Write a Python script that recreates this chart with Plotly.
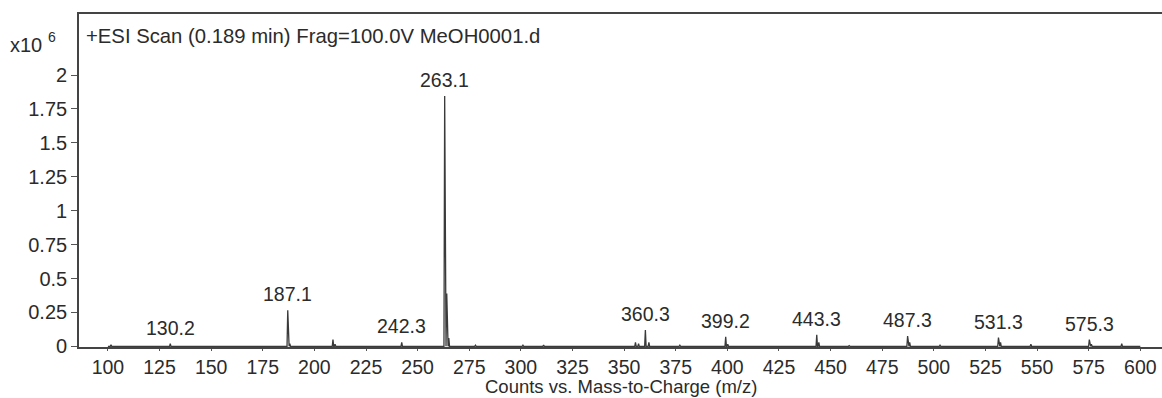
import plotly.graph_objects as go

# Peak list (m/z, intensity in units of 10^6 counts)
peak_mz = [101.5, 130.2, 187.1, 188.1, 209.0, 210.0, 242.3, 263.1, 264.1, 265.1,
           278.0, 301.0, 311.0, 355.5, 357.0, 360.3, 362.0, 377.0, 399.2, 400.2,
           443.3, 444.3, 459.0, 487.3, 488.3, 503.0, 531.3, 532.3, 547.0, 575.3,
           576.3, 591.0]
peak_int = [0.012, 0.02, 0.265, 0.02, 0.05, 0.015, 0.03, 1.845, 0.39, 0.06,
            0.008, 0.008, 0.01, 0.03, 0.02, 0.12, 0.03, 0.008, 0.07, 0.015,
            0.085, 0.03, 0.005, 0.075, 0.03, 0.008, 0.065, 0.03, 0.015, 0.05,
            0.015, 0.02]
scan_start, scan_end = 100.0, 600.0

label_mz = [130.2, 187.1, 242.3, 263.1, 360.3, 399.2, 443.3, 487.3, 531.3, 575.3]
label_int = [0.02, 0.265, 0.03, 1.845, 0.12, 0.07, 0.085, 0.075, 0.065, 0.05]

x_ticks = list(range(100, 601, 25))
y_ticks = [0, 0.25, 0.5, 0.75, 1, 1.25, 1.5, 1.75, 2]
y_tick_text = ["0", "0.25", "0.5", "0.75", "1", "1.25", "1.5", "1.75", "2"]

# build stick profile
xs, ys = [scan_start], [0.0]
for m, v in zip(peak_mz, peak_int):
    xs += [m - 0.35, m, m + 0.35]
    ys += [0.0, v, 0.0]
xs.append(scan_end)
ys.append(0.0)

FONT = "Liberation Sans, Arial, sans-serif"
TXT = "#2b2b2b"

fig = go.Figure()
fig.add_trace(go.Scatter(x=xs, y=ys, mode="lines",
                         line=dict(color="#3a3a3a", width=1.3),
                         hoverinfo="skip", showlegend=False))

for m, v in zip(label_mz, label_int):
    fig.add_annotation(x=m, y=v, text=f"{m:.1f}", showarrow=False,
                       xanchor="center", yanchor="bottom", yshift=3,
                       font=dict(family=FONT, size=19.5, color=TXT))

fig.add_annotation(xref="paper", yref="paper", x=0.0, y=1.0, xshift=5, yshift=-9,
                   text="+ESI Scan (0.189 min) Frag=100.0V MeOH0001.d",
                   showarrow=False, xanchor="left", yanchor="top",
                   font=dict(family=FONT, size=20.3, color=TXT))
fig.add_annotation(xref="paper", yref="paper", x=0.0, y=1.0, xshift=-35, yshift=-31,
                   text="x10", showarrow=False, xanchor="right", yanchor="middle",
                   font=dict(family=FONT, size=20, color=TXT))
fig.add_annotation(xref="paper", yref="paper", x=0.0, y=1.0, xshift=-21, yshift=-23,
                   text="6", showarrow=False, xanchor="right", yanchor="middle",
                   font=dict(family=FONT, size=14, color=TXT))
fig.add_annotation(xref="paper", yref="paper", x=0.5, y=0.0, yshift=-51,
                   text="Counts vs. Mass-to-Charge (m/z)", showarrow=False,
                   xanchor="center", yanchor="bottom", borderpad=0,
                   font=dict(family=FONT, size=18.5, color=TXT))

fig.update_layout(
    width=1162, height=398,
    margin=dict(l=79, r=0, t=14, b=51),
    paper_bgcolor="white", plot_bgcolor="white",
    font=dict(family=FONT, size=19, color=TXT),
    showlegend=False,
)
fig.update_xaxes(range=[86, 610.5], tickvals=x_ticks, ticks="outside", ticklen=2,
                 tickcolor="#555", showline=True, linecolor="#444", linewidth=1.6,
                 mirror=True, showgrid=False, zeroline=False,
                 tickfont=dict(family=FONT, size=19.5, color=TXT))
fig.update_yaxes(range=[-0.005, 2.45], tickvals=y_ticks, ticktext=y_tick_text,
                 ticks="outside", ticklen=6, tickcolor="#555", showline=True,
                 linecolor="#444", linewidth=1.6, mirror=False, showgrid=False,
                 zeroline=False, tickfont=dict(family=FONT, size=20, color=TXT))

fig.write_html("out.html")
